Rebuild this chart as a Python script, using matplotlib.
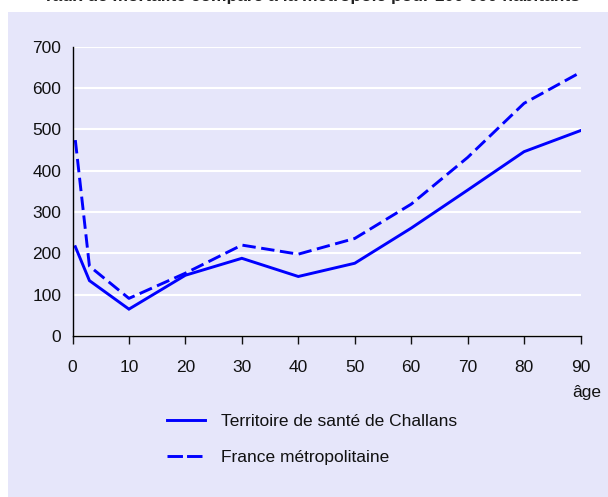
import matplotlib
matplotlib.use("Agg")
import matplotlib.pyplot as plt
from matplotlib.patches import Rectangle
from matplotlib.lines import Line2D

plt.rcParams['font.family'] = ['Liberation Sans', 'DejaVu Sans']

ages = [0.5, 3, 10, 20, 30, 40, 50, 60, 70, 80, 90]
challans = [216, 134, 65, 147, 188, 144, 176, 261, 353, 446, 497]
france = [474, 169, 91, 152, 220, 198, 236, 319, 432, 563, 638]
xticks = [0, 10, 20, 30, 40, 50, 60, 70, 80, 90]
yticks = [0, 100, 200, 300, 400, 500, 600, 700]
label_challans = "Territoire de santé de Challans"
label_france = "France métropolitaine"
title = "Taux de mortalité comparé à la métropole pour 100 000 habitants"

W, H = 608, 497
FS = 12.5
fig = plt.figure(figsize=(W / 100, H / 100), dpi=100)
fig.patch.set_facecolor("white")

# background panel
fig.add_artist(Rectangle((8 / W, 0), 1 - 8 / W, (H - 12) / H, transform=fig.transFigure,
                         facecolor="#E6E6FA", edgecolor="none", zorder=0))

# title (cropped at the top edge, as in the reference)
fig.text(311.5 / W, 1 - 0.8 / H, title, ha="center", va="baseline",
         fontsize=FS, fontweight="bold", color="#222222")

x0, x1 = 72.5, 580.5
y0, y1 = 336, 46.7
ax = fig.add_axes([x0 / W, (H - y0) / H, (x1 - x0) / W, (y0 - y1) / H])
ax.set_facecolor("none")
ax.set_xlim(0, 90)
ax.set_ylim(0, 700)
ax.set_xticks(xticks)
ax.set_yticks(yticks)
ax.yaxis.grid(True, color="white", linewidth=1.5)
ax.set_axisbelow(True)
for s in ("top", "right"):
    ax.spines[s].set_visible(False)
for s in ("left", "bottom"):
    ax.spines[s].set_color("black")
    ax.spines[s].set_linewidth(1.0)
ax.tick_params(axis="x", length=6, width=1, pad=11, labelsize=FS, colors="#111111")
ax.tick_params(axis="y", length=0, pad=8, labelsize=FS, colors="#111111")

ax.plot(ages, challans, color="#0000FF", lw=2.1, solid_joinstyle="miter")
ax.plot(ages, france, color="#0000FF", lw=2.1, dashes=(4.6, 1.9))

fig.text(601 / W, (H - 393) / H, "âge", ha="right", va="center", fontsize=FS, color="#111111")

handles = [Line2D([], [], color="#0000FF", lw=2.1),
           Line2D([], [], color="#0000FF", lw=2.1, dashes=(5.3, 1.4))]
fig.legend(handles, [label_challans, label_france], loc="center left",
           bbox_to_anchor=(167 / W, (H - 439.5) / H), frameon=False,
           borderpad=0, borderaxespad=0, handlelength=2.2, handletextpad=0.92,
           labelspacing=1.17, fontsize=FS, labelcolor="#111111")

fig.savefig("out.png", dpi=100)
